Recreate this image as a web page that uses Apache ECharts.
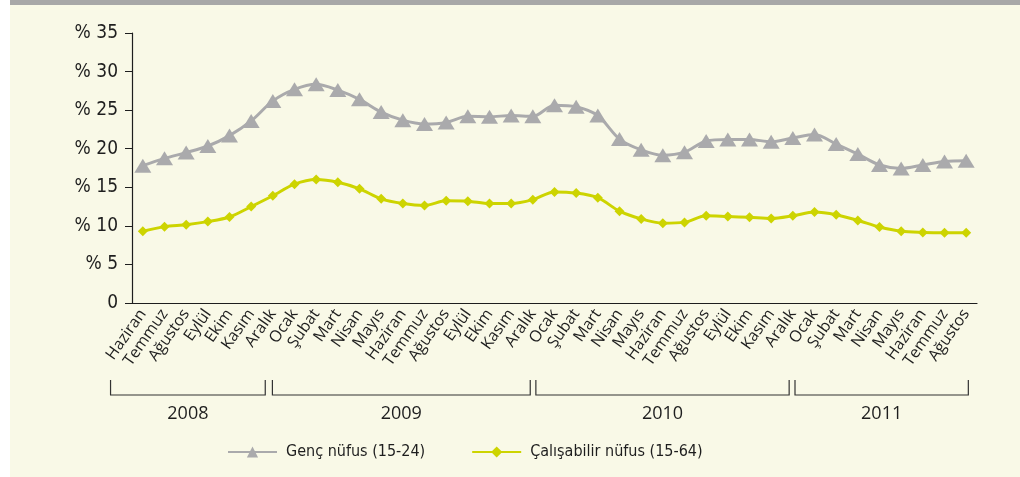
<!DOCTYPE html>
<html>
<head>
<meta charset="utf-8">
<script src="https://cdn.jsdelivr.net/npm/echarts@6/dist/echarts.min.js"></script>
<style>
    html, body { margin: 0; padding: 0; background: #fff; }
    .panel { position: absolute; left: 10px; top: 0; width: 1010px; height: 472px; background: #f9f9e7; border-top: 5px solid #a8a8a8; }
    #main { position: absolute; left: 0; top: 0; width: 1020px; height: 477px; }
</style>
</head>
<body>
<div class="panel"></div>
<div id="main"></div>
<script>
    // aylar (Haziran 2008 - Ağustos 2011)
    const months = [
        'Haziran', 'Temmuz', 'Ağustos', 'Eylül', 'Ekim', 'Kasım', 'Aralık',
        'Ocak', 'Şubat', 'Mart', 'Nisan', 'Mayıs', 'Haziran', 'Temmuz', 'Ağustos', 'Eylül', 'Ekim', 'Kasım', 'Aralık',
        'Ocak', 'Şubat', 'Mart', 'Nisan', 'Mayıs', 'Haziran', 'Temmuz', 'Ağustos', 'Eylül', 'Ekim', 'Kasım', 'Aralık',
        'Ocak', 'Şubat', 'Mart', 'Nisan', 'Mayıs', 'Haziran', 'Temmuz', 'Ağustos'
    ]
    // yıl grupları: ilk ve son ay indeksi
    const years = ['2008', '2009', '2010', '2011']
    const yearFrom = [0, 7, 19, 31]
    const yearTo = [6, 18, 30, 38]

    const gencNufus = [
        17.8, 18.75, 19.5, 20.35, 21.7, 23.6, 26.2,
        27.7, 28.35, 27.6, 26.4, 24.75, 23.7, 23.2, 23.4, 24.2, 24.15, 24.3, 24.2,
        25.65, 25.45, 24.3, 21.25, 19.85, 19.15, 19.55, 21.0, 21.2, 21.2, 20.9, 21.4,
        21.85, 20.6, 19.3, 17.9, 17.45, 17.9, 18.35, 18.45
    ]
    const calisabilirNufus = [
        9.3, 9.9, 10.15, 10.55, 11.15, 12.5, 13.9,
        15.4, 16.0, 15.65, 14.8, 13.5, 12.9, 12.65, 13.25, 13.2, 12.9, 12.9, 13.4,
        14.4, 14.25, 13.65, 11.9, 10.9, 10.35, 10.45, 11.3, 11.2, 11.1, 10.95, 11.3,
        11.8, 11.45, 10.7, 9.85, 9.3, 9.15, 9.1, 9.1
    ]
    const yTicks = [0, 5, 10, 15, 20, 25, 30, 35]

    const grey = '#aaaaac'
    const yellow = '#cdd400'
    const ink = '#1e1e1e'
    const narrow = 'Liberation Sans Narrow, DejaVu Sans Condensed'

    const chart = echarts.init(document.getElementById('main'))
    const option = {
        backgroundColor: 'transparent',
        animation: false,
        grid: { left: 132, right: 43, top: 33, bottom: 174 },
        legend: {
            bottom: 12,
            left: 222,
            itemWidth: 49,
            itemHeight: 14,
            itemGap: 46,
            textStyle: { fontFamily: narrow, fontSize: 16, color: ink, padding: [0, 0, 0, 4] },
            data: ['Genç nüfus (15-24)', 'Çalışabilir nüfus (15-64)']
        },
        xAxis: {
            type: 'category',
            data: months,
            boundaryGap: true,
            axisLine: { lineStyle: { color: ink, width: 1.2 } },
            axisTick: { show: false },
            axisLabel: {
                interval: 0,
                rotate: 55,
                margin: 8,
                color: ink,
                fontSize: 16,
                fontFamily: 'Open Sans'
            }
        },
        yAxis: {
            type: 'value',
            min: yTicks[0],
            max: yTicks[yTicks.length - 1],
            interval: 5,
            splitLine: { show: false },
            axisLine: { show: true, lineStyle: { color: ink, width: 1.2 } },
            axisTick: { show: true, length: 7, lineStyle: { color: ink } },
            axisLabel: {
                margin: 14,
                color: ink,
                fontSize: 19,
                fontFamily: narrow,
                formatter: v => v === 0 ? '0' : '% ' + v
            }
        },
        series: [
            {
                name: 'Genç nüfus (15-24)',
                type: 'line',
                data: gencNufus,
                smooth: 0.3,
                symbol: 'triangle',
                symbolSize: [17, 14],
                lineStyle: { color: grey, width: 3 },
                itemStyle: { color: grey }
            },
            {
                name: 'Çalışabilir nüfus (15-64)',
                type: 'line',
                data: calisabilirNufus,
                smooth: 0.3,
                symbol: 'diamond',
                symbolSize: 10,
                lineStyle: { color: yellow, width: 3 },
                itemStyle: { color: yellow }
            }
        ]
    }
    chart.setOption(option)

    // yıl parantezleri: ay konumlarından hesaplanır
    const x0 = chart.convertToPixel({ xAxisIndex: 0 }, 0)
    const x1 = chart.convertToPixel({ xAxisIndex: 0 }, months.length - 1)
    const step = (x1 - x0) / (months.length - 1)
    const startPad = [1.49, 1.02, 0.86, 0.9]
    const endPad = [0.35, 0.12, 0.17, -0.1]
    const elements = []
    years.forEach((yr, i) => {
        const a = x0 + (yearFrom[i] - startPad[i]) * step
        const b = x0 + (yearTo[i] - endPad[i]) * step
        elements.push({
            type: 'polyline',
            shape: { points: [[a, 380], [a, 395], [b, 395], [b, 380]] },
            style: { stroke: '#333', lineWidth: 1.2, fill: null }
        })
        elements.push({
            type: 'text',
            x: (a + b) / 2,
            y: 414,
            style: { text: yr, fill: ink, fontSize: 18, fontFamily: 'Open Sans', align: 'center', verticalAlign: 'middle' }
        })
    })
    chart.setOption({ graphic: elements })
</script>
</body>
</html>
